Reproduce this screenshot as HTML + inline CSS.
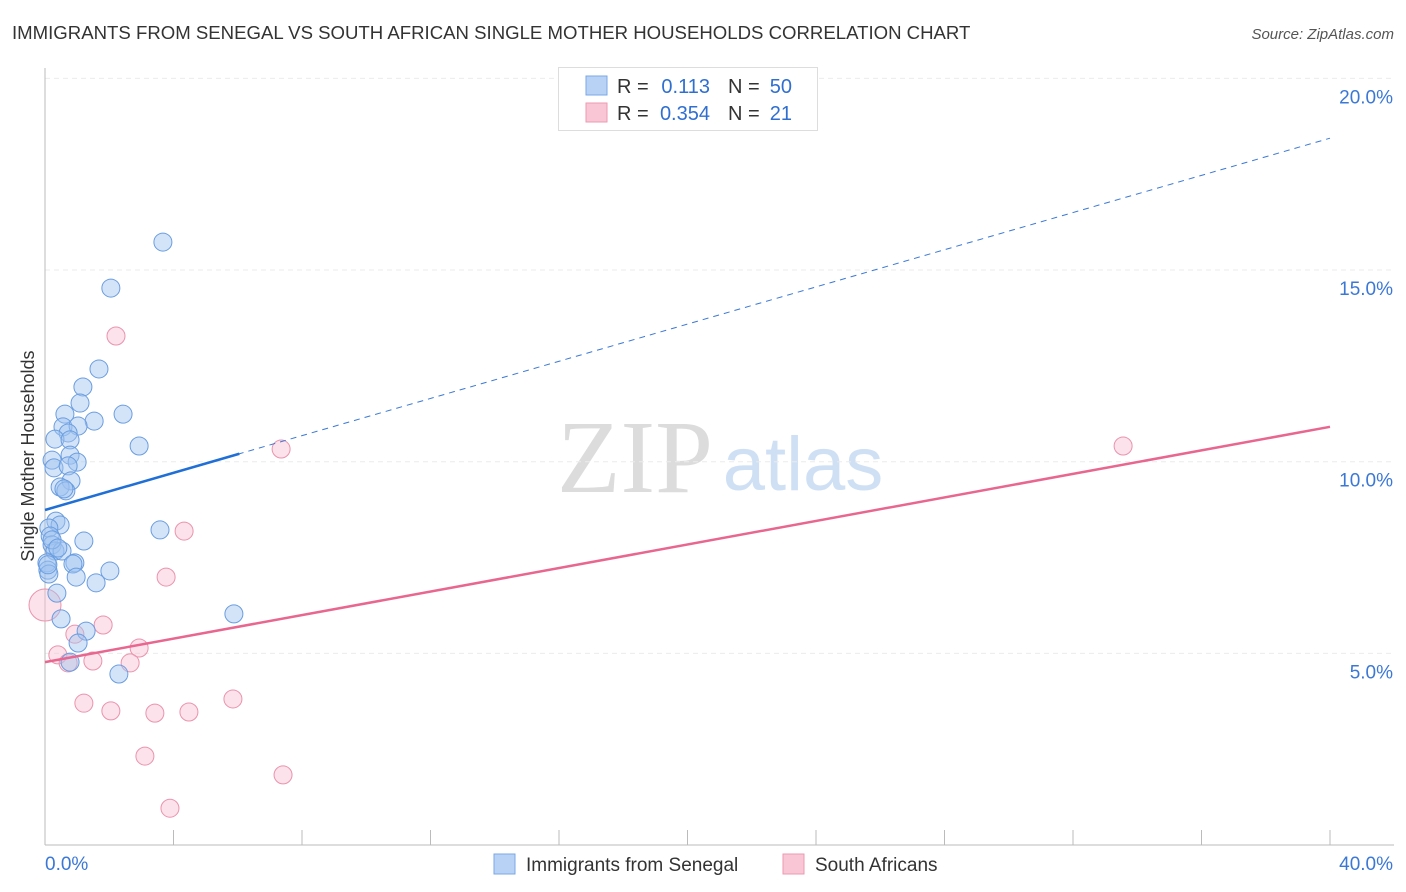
<!DOCTYPE html>
<html><head><meta charset="utf-8"><style>
body{margin:0;background:#fff;font-family:"Liberation Sans",sans-serif;}
svg{display:block}
</style></head><body>
<svg id="chart" width="1406" height="892">
<text x="12" y="39" font-size="18.6" fill="#333">IMMIGRANTS FROM SENEGAL VS SOUTH AFRICAN SINGLE MOTHER HOUSEHOLDS CORRELATION CHART</text>
<text x="1394" y="39" font-size="15" font-style="italic" fill="#555" text-anchor="end">Source: ZipAtlas.com</text>
<g>
<text x="635" y="492" font-size="104" font-family="Liberation Serif,serif" fill="#dcdcdc" text-anchor="middle">ZIP</text>
<text x="803" y="490" font-size="76" fill="#cfe0f5" text-anchor="middle">atlas</text>
</g>
<g id="grid"></g>
<g id="axes"></g>
<g id="marks"></g>
<g>
<rect x="558.5" y="67.5" width="259" height="63" fill="#fff" stroke="#ddd"/>
<rect x="586" y="76" width="21" height="19" fill="#b7d2f5" stroke="#7aa8e6"/>
<rect x="586" y="103" width="21" height="19" fill="#f8c6d5" stroke="#ec9ab3"/>
<text x="617" y="93" font-size="20" fill="#333">R = </text><text x="710" y="93" font-size="20" fill="#2f6fd0" text-anchor="end">0.113</text>
<text x="728" y="93" font-size="20" fill="#333">N = </text><text x="792" y="93" font-size="20" fill="#2f6fd0" text-anchor="end">50</text>
<text x="617" y="120" font-size="20" fill="#333">R = </text><text x="710" y="120" font-size="20" fill="#2f6fd0" text-anchor="end">0.354</text>
<text x="728" y="120" font-size="20" fill="#333">N = </text><text x="792" y="120" font-size="20" fill="#2f6fd0" text-anchor="end">21</text>
</g>
<g>
<rect x="494" y="854" width="21" height="20" fill="#b7d2f5" stroke="#7aa8e6"/>
<text x="526" y="871" font-size="19" fill="#333">Immigrants from Senegal</text>
<rect x="783" y="854" width="21" height="20" fill="#f8c6d5" stroke="#ec9ab3"/>
<text x="815" y="871" font-size="19" fill="#333">South Africans</text>
</g>
<text transform="translate(34,456) rotate(-90)" font-size="18" fill="#333" text-anchor="middle">Single Mother Households</text>
</svg>
<script>
const blueX=[3.67,2.05,1.68,1.18,1.09,2.43,1.53,0.62,0.56,1.03,0.72,0.31,0.78,2.93,0.78,0.22,1.00,0.28,0.72,0.81,0.47,0.65,0.34,0.47,0.12,1.21,0.16,0.22,0.31,0.53,0.06,0.93,0.87,0.09,2.02,0.97,1.59,0.12,0.37,5.88,0.50,1.28,1.03,0.78,2.30,3.58,0.09,0.22,0.40,0.59];
const blueY=[15.73,14.53,12.42,11.95,11.53,11.24,11.06,11.24,10.91,10.93,10.75,10.59,10.57,10.41,10.17,10.04,9.99,9.84,9.89,9.50,9.34,9.24,8.45,8.35,8.27,7.93,8.06,7.83,7.67,7.67,7.36,7.36,7.33,7.17,7.15,6.99,6.84,7.07,6.57,6.03,5.90,5.58,5.27,4.77,4.46,8.22,7.31,7.96,7.75,9.29];
const pinkX=[2.21,7.35,4.33,3.77,1.81,2.93,0.93,0.40,1.49,2.65,0.72,1.21,2.05,3.42,4.48,5.85,3.11,7.41,3.89,33.56,0.0];
const pinkY=[13.28,10.33,8.19,6.99,5.74,5.14,5.50,4.96,4.80,4.75,4.75,3.70,3.50,3.44,3.47,3.81,2.32,1.83,0.96,10.41,6.26];
const blueTrend=[8.74,18.44];
const pinkTrend=[4.77,10.91];
const yTicks=[5,10,15,20];
const xTickVals=[0,4,8,12,16,20,24,28,32,36,40];
const NS="http://www.w3.org/2000/svg";
const sx=v=>45+v/40*1285;
const sy=v=>845-v*38.33;
function mk(t,a,p){const e=document.createElementNS(NS,t);for(const k in a)e.setAttribute(k,a[k]);document.getElementById(p).appendChild(e);return e;}
yTicks.forEach(v=>{
 const g=mk('line',{x1:45,x2:1394,y1:sy(v),y2:sy(v),stroke:'#ebebeb','stroke-dasharray':'5,4'},'grid');
 
 
 const t=mk('text',{x:1393,y:sy(v)+25,'font-size':19,fill:'#3b78d6','text-anchor':'end'},'axes');
 t.textContent=v.toFixed(1)+'%';
 
 
});
let a=mk('line',{x1:45,x2:45,y1:68,y2:845,stroke:'#bbb'},'axes');


a=mk('line',{x1:45,x2:1394,y1:845,y2:845,stroke:'#bbb'},'axes');


xTickVals.forEach(v=>{
 const l=mk('line',{x1:sx(v),x2:sx(v),y1:830,y2:845,stroke:'#bbb'},'axes');
 
 
});
[[0,'0.0%','start',45],[40,'40.0%','end',1393]].forEach(d=>{
 const t=mk('text',{x:d[3],y:870,'font-size':19,fill:'#3b78d6','text-anchor':d[2]},'axes');
 t.textContent=d[1];
 
 
});
pinkX.forEach((x,i)=>{
 const c=mk('circle',{cx:sx(x),cy:sy(pinkY[i]),r:(i==pinkX.length-1?16:9),fill:'rgba(248,190,208,0.45)',stroke:'#eb93ae','stroke-width':1},'marks');
 
 
});
blueX.forEach((x,i)=>{
 const c=mk('circle',{cx:sx(x),cy:sy(blueY[i]),r:9,fill:'rgba(160,196,240,0.45)',stroke:'#6a9de0','stroke-width':1},'marks');
 
 
});
const bAt=x=>blueTrend[0]+(blueTrend[1]-blueTrend[0])*x/40;
let l=mk('line',{x1:sx(6),y1:sy(bAt(6)),x2:sx(40),y2:sy(bAt(40)),stroke:'#3b78d6','stroke-width':1,'stroke-dasharray':'6,5'},'marks');


l=mk('line',{x1:sx(0),y1:sy(bAt(0)),x2:sx(6.05),y2:sy(bAt(6.05)),stroke:'#1f6fd6','stroke-width':2.5},'marks');


l=mk('line',{x1:sx(0),y1:sy(pinkTrend[0]),x2:sx(40),y2:sy(pinkTrend[1]),stroke:'#e8668f','stroke-width':2.5},'marks');


</script>
</body></html>
